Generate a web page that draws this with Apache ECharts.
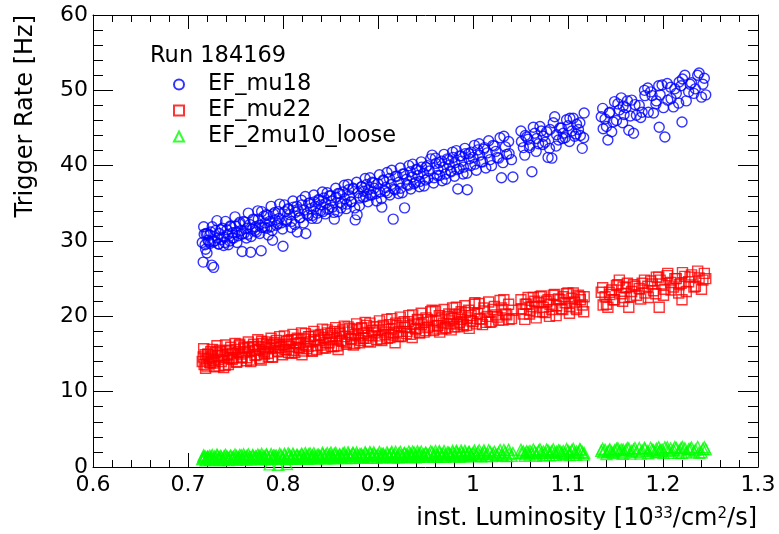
<!DOCTYPE html>
<html>
<head>
<meta charset="utf-8">
<script src="https://cdn.jsdelivr.net/npm/echarts@6/dist/echarts.min.js"></script>
<style>
html,body{margin:0;padding:0;background:#fff;}
#chart{width:779px;height:534px;}
</style>
</head>
<body>
<div id="chart"></div>
<script>
// instantaneous luminosity of each lumi block [10^33 cm^-2 s^-1]
const luminosity = [
  0.715,0.716,0.717,0.718,0.719,0.720,0.721,0.722,0.723,0.724,
  0.725,0.727,0.728,0.729,0.731,0.732,0.733,0.735,0.736,0.738,
  0.739,0.741,0.742,0.744,0.745,0.747,0.748,0.750,0.751,0.753,
  0.754,0.756,0.757,0.759,0.760,0.762,0.763,0.765,0.766,0.768,
  0.769,0.771,0.772,0.774,0.775,0.777,0.778,0.780,0.781,0.783,
  0.784,0.786,0.787,0.789,0.790,0.792,0.793,0.795,0.796,0.798,
  0.800,0.802,0.804,0.806,0.807,0.809,0.811,0.813,0.815,0.816,
  0.818,0.820,0.822,0.824,0.825,0.827,0.829,0.831,0.833,0.834,
  0.836,0.838,0.840,0.842,0.843,0.845,0.847,0.849,0.851,0.852,
  0.854,0.856,0.858,0.860,0.861,0.863,0.865,0.867,0.869,0.870,
  0.872,0.874,0.876,0.878,0.879,0.881,0.883,0.885,0.887,0.888,
  0.890,0.892,0.894,0.896,0.898,
  0.900,0.902,0.904,0.906,0.908,0.910,0.912,0.914,0.916,0.918,
  0.920,0.922,0.924,0.926,0.928,0.930,0.932,0.934,0.936,0.938,
  0.940,0.942,0.944,0.946,0.948,0.950,0.952,0.954,0.957,0.959,
  0.961,0.963,0.965,0.967,0.969,0.971,0.973,0.975,0.977,0.979,
  0.981,0.983,0.984,0.986,0.988,0.990,0.992,0.994,0.996,0.998,
  1.000,1.002,1.005,1.007,1.010,1.012,1.015,1.018,1.021,1.024,
  1.027,1.030,1.034,1.038,1.042,
  1.051,1.053,1.055,1.058,1.060,1.062,1.065,1.067,1.069,1.072,
  1.074,1.076,1.079,1.081,1.083,1.086,1.088,1.090,1.093,1.095,
  1.097,1.100,1.102,1.104,1.107,1.109,1.111,1.113,1.115,1.117,
  1.135,1.137,1.139,1.142,1.144,1.146,1.149,1.151,1.154,1.156,
  1.159,1.161,1.164,1.167,1.169,1.172,1.175,1.178,1.181,1.184,
  1.187,1.190,1.193,1.196,1.199,1.202,1.205,1.208,1.211,1.214,
  1.217,1.220,1.223,1.227,1.230,1.234,1.238,1.242,
  1.158,1.197,1.219,1.245,
  0.7165,0.7185,0.7205,0.7235,0.7255,0.7265,0.7305,0.7325,0.7345,0.7375,
  0.7395,0.7425,0.7445,0.7465,0.7495,0.7515,0.7545,0.7565,0.7585,0.7615,
  0.7635,0.7665,0.7685,0.7705,0.7735,0.7755,0.7775,0.7805,0.7825,0.7845,
  0.7875,0.7885,0.7915,0.7945,0.7965,0.7995,0.8015,0.8035,0.8055,0.8085,
  0.8105,0.8125,0.8145,0.8175,0.8195,0.8215,0.8235,0.8265,0.8285,0.8305,
  0.8325,0.8355,0.8375,0.8395,0.8415,0.8445,0.8465,0.8485,0.8505,0.8535,
  0.8555,0.8575,0.8595,0.8625,0.8645,0.8665,0.8685,0.8715,0.8735,0.8755,
  0.8775,0.8805,0.8825,0.8845,0.8865,0.8895,0.8915,0.8935,0.8955,0.8985,
  0.9015,0.9035,0.9055,0.9075,0.9095,0.9125,0.9145,0.9165,0.9185,0.9215,
  0.9235,0.9255,0.9275,0.9305,0.9325,0.9345,0.9365,0.9395,0.9415,0.9435,
  0.9455,0.9485,0.9505,0.9525,0.9555,0.9585,0.9605,0.9625,0.9645,0.9675,
  0.9695,0.9715,0.9745,0.9765,0.9785,0.9805,0.9825,0.9855,0.9875,0.9895,
  0.9915,0.9935,0.9955,0.9975,1.0015,1.0035,1.0065,1.0085,1.0115,1.0135,
  1.0165,1.0195,1.0225,1.0255,1.0285,1.0315,1.0325,1.0355,1.0375,1.0405,
  1.0505,1.0545,1.0565,1.0595,1.0635,1.0665,1.0705,1.0735,1.0775,1.0805,
  1.0845,1.0875,1.0915,1.0945,1.0985,1.1015,1.1055,1.1085,1.1125,1.1165,
  1.1365,1.1405,1.1435,1.1475,1.1525,1.1575,1.1625,1.1655,1.1705,1.1765,
  1.1805,1.1845,1.1885,1.1925,1.1955,1.2005,1.2045,1.2085,1.2125,1.2165,
  1.2205,1.2245,1.2285,1.2325,1.2365,1.2405,1.2435
];

// EF_mu18 rate [Hz]
const rateEFmu18 = [
  29.8,27.2,30.9,29.5,31.0,28.4,30.1,29.9,30.8,31.2,
  26.8,26.5,30.0,31.4,30.4,29.6,31.0,30.2,31.7,30.5,
  29.8,31.5,30.9,30.0,31.9,31.1,30.4,32.0,31.2,30.7,
  32.3,31.4,28.6,31.0,32.5,31.7,30.9,32.2,28.5,31.6,
  32.8,31.9,31.2,32.9,32.1,28.7,31.8,33.3,32.4,31.7,
  33.4,32.6,31.9,30.1,33.6,32.8,32.1,33.9,33.0,32.4,
  29.3,33.9,32.8,34.2,33.5,32.6,34.5,33.8,31.2,34.0,
  33.1,34.8,34.1,31.0,33.6,35.0,34.3,33.4,35.2,34.6,
  33.7,35.4,34.8,33.9,35.7,35.0,34.2,36.0,35.3,34.5,
  32.9,35.8,36.3,35.1,34.4,36.5,35.6,34.9,36.8,36.0,
  35.2,37.0,32.8,33.5,36.4,35.7,37.2,36.6,35.9,37.5,
  36.8,36.1,37.8,37.0,36.3,
  37.6,36.5,34.5,38.0,37.1,36.4,38.3,37.5,32.9,36.8,
  38.6,37.8,37.0,38.9,34.4,38.2,37.4,39.2,38.5,37.6,
  39.5,38.7,37.9,39.8,39.0,38.1,40.0,39.3,41.4,38.4,
  40.3,39.5,38.7,40.6,39.8,38.9,40.9,40.1,39.2,41.1,
  40.4,39.5,36.9,41.3,40.6,39.8,41.6,36.8,40.9,41.8,
  41.1,40.2,42.1,41.4,40.5,42.4,41.7,40.8,42.7,41.9,
  41.0,38.4,42.5,41.6,38.5,
  43.2,42.4,44.0,43.5,42.7,39.2,44.3,43.6,42.9,44.6,
  43.9,43.1,41.1,44.8,41.0,46.5,44.1,43.4,45.0,44.3,
  43.7,45.3,46.3,44.6,43.9,45.5,44.8,44.0,42.3,47.0,
  46.5,44.9,46.2,43.4,47.1,44.5,48.5,46.0,47.4,49.0,
  46.8,47.7,44.7,48.7,44.3,46.7,48.0,47.1,49.3,50.3,
  49.8,47.0,48.6,45.1,50.7,43.8,48.7,50.4,47.8,49.6,
  51.1,45.8,52.0,49.8,51.0,50.2,52.3,50.8,
  47.9,49.4,50.6,49.4,
  31.9,28.9,31.0,29.7,31.9,29.9,32.7,29.6,31.5,29.4,
  32.6,29.5,32.0,30.4,33.2,29.8,32.5,30.9,32.6,30.4,
  33.7,30.6,32.9,31.4,34.0,31.0,33.9,31.8,33.5,30.8,
  34.6,31.4,33.8,32.3,34.9,31.6,34.8,32.6,34.3,31.8,
  35.3,32.2,34.6,33.1,35.4,32.4,35.9,33.4,35.1,33.0,
  36.1,33.0,35.5,34.0,36.5,33.6,36.4,34.3,36.0,33.8,
  37.0,33.9,36.3,34.9,37.4,34.3,37.5,35.2,36.9,34.4,
  37.8,34.7,37.2,35.8,38.3,35.2,38.4,36.1,37.7,35.3,
  38.8,35.6,38.1,36.6,39.1,36.1,39.4,36.9,38.6,36.3,
  39.7,36.4,38.9,37.5,40.0,36.9,40.2,37.8,39.5,37.2,
  40.5,37.3,39.8,38.3,40.9,37.7,41.0,38.7,40.4,38.0,
  41.5,38.2,40.8,39.3,41.8,38.6,42.0,39.6,41.3,38.9,
  42.3,39.0,41.6,40.0,42.7,39.4,42.9,40.5,42.2,39.7,
  43.3,40.0,42.6,41.1,43.7,40.4,43.9,41.5,43.2,40.8,
  44.6,41.4,43.8,42.4,45.1,41.9,45.2,42.8,44.5,42.3,
  45.7,42.6,45.0,43.6,46.1,43.2,46.3,44.2,45.7,43.7,
  47.6,45.2,47.0,45.8,48.2,45.7,48.6,46.6,48.1,46.4,
  50.0,47.1,49.3,48.2,50.6,47.7,50.9,48.9,50.2,48.3,
  51.5,48.6,50.8,49.6,52.0,49.1,51.6
];

// EF_mu22 rate [Hz]
const rateEFmu22 = [
  14.0,14.6,13.6,14.9,14.2,13.4,15.0,14.4,13.9,15.3,
  14.6,14.1,13.3,15.2,14.8,14.3,15.5,14.0,15.0,14.6,
  13.5,15.4,14.9,14.4,15.9,15.1,14.5,15.6,13.9,15.3,
  16.1,15.0,14.6,15.7,15.2,14.5,15.9,15.4,14.0,15.8,
  16.3,15.5,14.9,16.0,15.6,14.2,16.4,15.3,15.9,16.6,
  15.1,16.1,15.7,14.6,16.3,15.8,16.8,15.4,16.2,15.9,
  16.3,15.6,16.7,15.2,16.0,16.9,15.5,16.4,17.1,15.9,
  16.5,14.9,17.0,16.2,15.7,17.3,16.6,15.4,16.9,17.5,
  16.1,16.8,17.6,15.8,17.2,16.5,17.8,16.9,16.0,17.4,
  18.0,17.1,15.6,17.7,16.8,18.2,17.3,16.5,17.9,18.4,
  17.0,16.2,17.6,18.3,17.4,16.8,18.5,17.7,17.1,18.8,
  17.5,16.6,18.1,17.8,18.6,
  18.2,17.4,16.8,18.6,17.9,17.1,18.9,18.3,17.5,16.5,
  18.8,18.0,17.3,19.1,18.5,17.7,19.3,18.6,17.2,19.0,
  18.4,19.5,17.8,18.9,19.2,18.1,19.6,18.7,20.8,18.3,
  19.4,18.8,17.9,19.8,19.1,18.5,20.0,19.4,18.2,19.7,
  20.2,19.0,18.6,20.3,19.6,18.9,20.5,19.8,18.4,20.1,
  19.3,21.8,20.4,19.7,18.9,20.7,20.0,19.2,20.9,20.2,
  19.5,21.1,20.3,19.6,20.8,
  21.0,20.3,21.6,22.5,20.8,21.3,22.0,20.6,21.8,22.7,
  21.2,20.5,22.2,21.6,20.9,22.9,21.4,22.3,21.0,22.6,
  21.8,23.1,21.3,22.4,21.9,20.9,22.8,22.2,21.5,22.6,
  23.2,21.5,22.6,21.2,22.9,23.5,22.2,24.1,24.8,23.0,
  22.5,23.8,21.2,23.3,24.2,22.8,23.7,24.4,23.1,24.0,
  24.7,23.4,25.2,21.2,24.3,23.6,25.7,24.5,23.9,25.0,
  24.2,22.2,25.3,24.6,25.5,24.0,25.1,24.8,
  23.9,24.8,24.4,25.0,
  15.7,13.1,14.9,13.8,15.6,13.8,16.1,13.4,15.3,13.2,
  16.2,13.6,15.5,14.3,16.4,14.0,16.3,14.5,15.9,14.1,
  16.6,14.2,16.0,14.8,16.9,14.4,16.7,15.0,16.3,14.6,
  17.1,14.6,16.5,15.3,17.3,14.9,17.4,15.6,16.8,15.1,
  17.6,15.2,16.9,15.8,17.8,15.4,17.7,16.0,17.3,15.4,
  18.0,15.6,17.4,16.2,18.3,15.8,18.2,16.5,17.7,16.0,
  18.5,16.1,17.9,16.7,18.7,16.3,18.6,17.0,18.2,16.4,
  19.0,16.5,18.4,17.1,19.2,16.7,19.1,17.4,18.6,16.9,
  19.4,17.0,18.8,17.6,19.6,17.2,19.7,17.8,19.1,17.3,
  19.9,17.4,19.3,18.0,20.1,17.6,20.2,18.3,19.6,17.8,
  20.4,17.9,19.8,18.5,20.6,18.1,20.7,18.7,20.1,18.3,
  20.9,18.4,20.3,19.0,21.1,18.6,21.2,19.2,20.6,18.7,
  21.4,18.8,20.8,19.4,21.6,19.0,21.7,19.6,21.1,19.2,
  21.9,19.3,21.3,19.9,22.1,19.5,22.2,20.2,21.6,19.7,
  22.2,19.6,21.6,20.3,22.5,19.8,22.6,20.6,22.0,20.0,
  22.8,20.1,22.2,20.9,23.0,20.4,23.1,21.1,22.6,20.6,
  23.8,21.6,23.2,22.2,24.2,22.0,24.4,22.6,24.0,22.3,
  24.8,22.5,24.3,23.0,25.2,22.8,25.4,23.5,25.0,23.1,
  25.8,23.3,25.2,23.9,26.0,23.6,25.7
];

// EF_2mu10_loose rate [Hz]
const rateEF2mu10loose = [
  1.05,1.30,1.18,1.42,0.98,1.25,1.36,1.12,1.48,1.20,
  1.31,1.08,1.40,1.22,1.50,1.15,1.33,1.27,1.05,1.45,
  1.19,1.38,1.28,1.10,1.52,1.24,1.35,1.16,1.46,1.30,
  1.21,1.55,1.12,1.40,1.29,1.48,1.18,1.36,1.25,1.58,
  1.14,1.42,1.31,1.22,1.50,1.37,1.20,1.45,1.28,1.60,
  1.33,0.35,1.41,1.26,1.52,1.19,1.47,0.30,1.36,1.55,
  1.25,1.52,0.40,1.40,1.62,1.30,1.48,1.20,1.58,1.36,
  1.45,1.66,1.28,1.50,1.38,1.70,1.33,1.55,1.44,1.27,
  1.62,1.48,1.36,1.72,1.41,1.57,1.30,1.65,1.49,1.38,
  1.75,1.52,1.43,1.60,1.35,1.78,1.55,1.46,1.68,1.40,
  1.58,1.82,1.50,1.63,1.44,1.71,1.56,1.39,1.80,1.60,
  1.48,1.74,1.58,1.67,1.52,
  1.62,1.45,1.75,1.55,1.38,1.70,1.58,1.82,1.49,1.66,
  1.40,1.78,1.60,1.52,1.85,1.68,1.47,1.74,1.63,1.90,
  1.55,1.71,1.80,1.50,1.66,1.88,1.59,1.76,1.95,1.62,
  1.72,1.53,1.86,1.69,1.79,1.58,1.92,1.74,1.65,1.84,
  1.57,1.98,1.77,1.68,1.89,1.61,1.82,1.73,2.00,1.66,
  1.85,1.76,1.94,1.62,1.80,1.90,1.71,2.02,1.78,1.67,
  1.88,1.60,1.95,1.74,1.84,
  1.85,2.05,1.78,1.98,2.12,1.88,2.00,1.80,2.15,1.92,
  2.06,1.84,2.18,1.95,2.08,1.86,2.02,2.20,1.90,2.10,
  1.82,2.14,1.97,2.22,1.88,2.06,1.93,2.25,2.00,1.86,
  2.15,1.95,2.28,2.05,2.35,1.98,2.20,2.40,2.08,2.30,
  1.92,2.25,2.45,2.12,2.32,2.02,2.50,2.18,2.38,2.10,
  2.55,2.22,2.42,2.05,2.33,2.60,2.15,2.45,2.28,2.52,
  2.20,1.85,2.48,2.35,2.58,2.25,1.90,2.40,
  2.30,2.22,2.50,2.35,
  1.55,0.88,1.35,1.00,1.60,1.00,1.65,0.90,1.50,0.95,
  1.62,0.92,1.42,1.08,1.66,0.94,1.60,1.02,1.70,0.98,
  1.68,1.00,1.48,1.12,1.65,1.05,1.75,1.02,1.70,1.08,
  1.72,1.05,1.52,1.16,1.74,1.10,1.76,1.06,1.80,1.08,
  1.78,1.10,1.58,1.20,1.76,1.12,1.85,1.10,1.80,1.15,
  1.82,1.12,1.62,1.25,1.88,1.12,1.84,1.18,1.90,1.15,
  1.88,1.18,1.68,1.30,1.90,1.20,1.94,1.18,1.88,1.22,
  1.92,1.22,1.72,1.34,1.96,1.25,1.98,1.22,1.94,1.26,
  1.98,1.25,1.78,1.38,1.96,1.30,2.02,1.26,2.00,1.30,
  2.02,1.30,1.82,1.42,2.04,1.32,2.06,1.30,2.08,1.34,
  2.06,1.34,1.86,1.46,2.08,1.36,2.12,1.34,2.10,1.38,
  2.12,1.36,1.92,1.50,2.14,1.40,2.16,1.38,2.18,1.42,
  2.16,1.42,1.96,1.55,2.18,1.44,2.22,1.42,2.20,1.46,
  2.22,1.46,2.02,1.60,2.24,1.48,2.26,1.46,2.28,1.50,
  2.28,1.50,2.08,1.64,2.32,1.50,2.34,1.55,2.30,1.56,
  2.35,1.58,2.14,1.70,2.38,1.60,2.40,1.62,2.38,1.64,
  2.42,1.72,2.22,1.84,2.48,1.76,2.50,1.78,2.52,1.80,
  2.55,1.82,2.30,1.95,2.60,1.86,2.62,1.88,2.64,1.90,
  2.66,1.92,2.40,2.05,2.65,1.95,2.62
];

const seriesNames = ['EF_mu18', 'EF_mu22', 'EF_2mu10_loose'];
const runLabel = 'Run 184169';
const xTicks = [0.6, 0.7, 0.8, 0.9, 1.0, 1.1, 1.2, 1.3];
const yTicks = [0, 10, 20, 30, 40, 50, 60];

function pairs(rates) {
  const n = Math.min(luminosity.length, rates.length);
  const out = [];
  for (let i = 0; i < n; i++) out.push([luminosity[i], rates[i]]);
  return out;
}

const FONT = 'DejaVu Sans';
const chart = echarts.init(document.getElementById('chart'), null, {renderer: 'canvas'});

function xAx(pos, labels) {
  return {
    type: 'value', position: pos, min: xTicks[0], max: xTicks[xTicks.length - 1], interval: 0.1,
    axisLine: {show: true, onZero: false, lineStyle: {color: '#000', width: 1}},
    axisTick: {show: true, inside: true, length: 14, lineStyle: {color: '#000', width: 1}},
    minorTick: {show: true, splitNumber: 5, length: 7, lineStyle: {color: '#000', width: 1}},
    axisLabel: {show: labels, margin: 7, color: '#000', fontFamily: FONT, fontSize: 22,
      formatter: v => String(Math.round(v * 10) / 10), showMinLabel: true, showMaxLabel: true},
    splitLine: {show: false}
  };
}
function yAx(pos, labels) {
  return {
    type: 'value', position: pos, min: yTicks[0], max: yTicks[yTicks.length - 1], interval: 10,
    axisLine: {show: true, onZero: false, lineStyle: {color: '#000', width: 1}},
    axisTick: {show: true, inside: true, length: 20, lineStyle: {color: '#000', width: 1}},
    minorTick: {show: true, splitNumber: 5, length: 10, lineStyle: {color: '#000', width: 1}},
    axisLabel: {show: labels, margin: 5, color: '#000', fontFamily: FONT, fontSize: 22},
    splitLine: {show: false}
  };
}

const colors = ['#0000ff', '#ff0000', '#00ff00'];
const symbols = ['circle', 'rect', 'triangle'];
const sizes = [10, 10, 11];
const rates = [rateEFmu18, rateEFmu22, rateEF2mu10loose];

const option = {
  animation: false,
  backgroundColor: '#fff',
  grid: {left: 93, right: 21, top: 15, bottom: 67, containLabel: false},
  xAxis: [xAx('bottom', true), xAx('top', false)],
  yAxis: [yAx('left', true), yAx('right', false)],
  legend: {
    orient: 'vertical', left: 168, top: 68, itemGap: 3,
    itemWidth: 10, itemHeight: 10,
    data: seriesNames,
    textStyle: {color: '#000', fontFamily: FONT, fontSize: 22.5, padding: [0, 0, 0, 19]}
  },
  series: seriesNames.map((name, i) => ({
    name: name, type: 'scatter', xAxisIndex: 0, yAxisIndex: 0,
    symbol: symbols[i], symbolSize: sizes[i],
    itemStyle: {color: 'rgba(0,0,0,0)', borderColor: colors[i], borderWidth: 1.4},
    emphasis: {disabled: true},
    data: pairs(rates[i])
  })),
  graphic: [
    {type: 'text', x: 150, y: 56, style: {text: runLabel, fill: '#000', font: '22.5px "DejaVu Sans"', align: 'left', verticalAlign: 'middle'}},
    {type: 'text', x: 26, y: 15, rotation: Math.PI / 2,
     style: {text: 'Trigger Rate [Hz]', fill: '#000', font: '24px "DejaVu Sans"', align: 'right', verticalAlign: 'middle'}},
    {type: 'text', x: 757, y: 519,
     style: {text: 'inst. Luminosity [10{sup|33}/cm{sup|2}/s]', fill: '#000', font: '24px "DejaVu Sans"',
       align: 'right', verticalAlign: 'middle',
       rich: {sup: {fontFamily: FONT, fontSize: 15, fill: '#000', verticalAlign: 'top', lineHeight: 14}}}}
  ]
};
chart.setOption(option);
</script>
</body>
</html>
